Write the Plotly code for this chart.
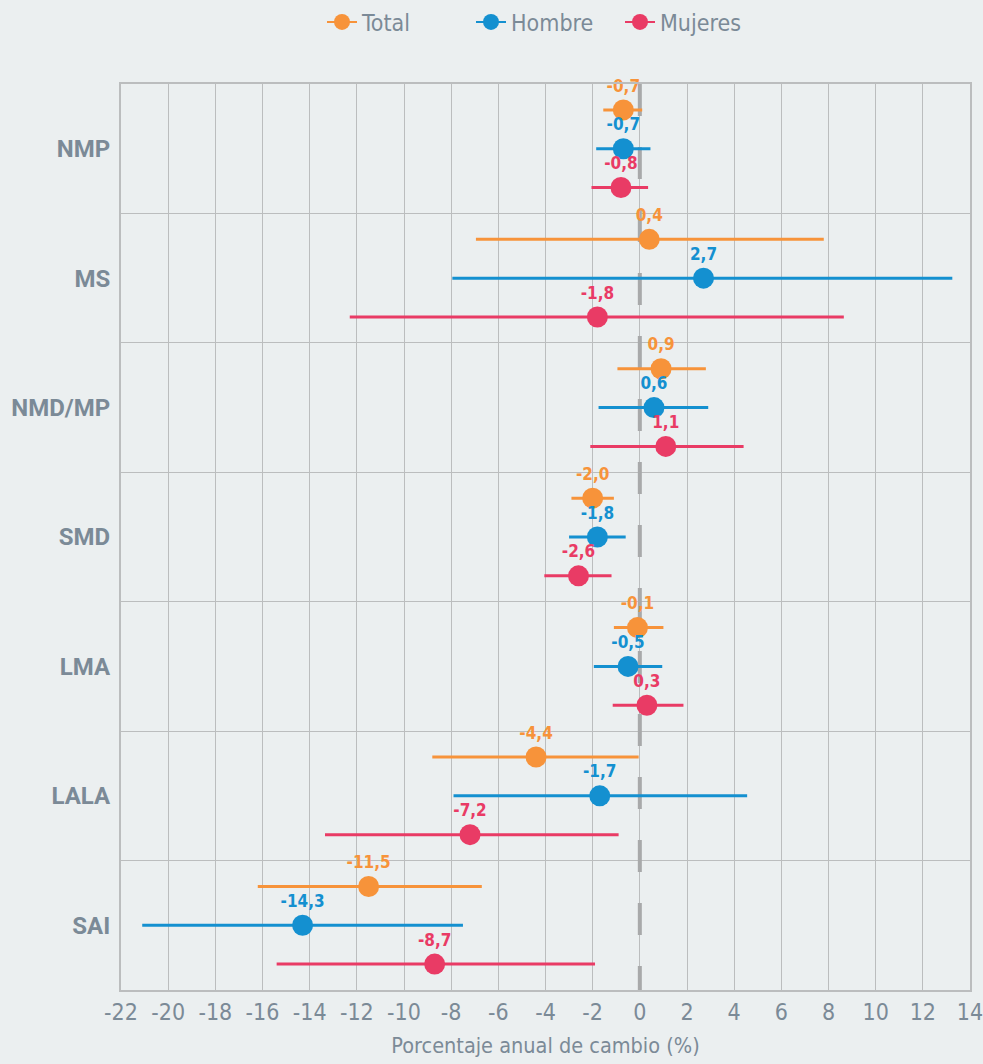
import plotly.graph_objects as go

categories = ["NMP", "MS", "NMD/MP", "SMD", "LMA", "LALA", "SAI"]

total = [-0.7, 0.4, 0.9, -2.0, -0.1, -4.4, -11.5]
total_lo = [-1.55, -6.95, -0.95, -2.9, -1.1, -8.8, -16.2]
total_hi = [0.1, 7.8, 2.8, -1.1, 1.0, -0.05, -6.7]

hombre = [-0.7, 2.7, 0.6, -1.8, -0.5, -1.7, -14.3]
hombre_lo = [-1.85, -7.95, -1.75, -3.0, -1.95, -7.9, -21.1]
hombre_hi = [0.45, 13.25, 2.9, -0.6, 0.95, 4.55, -7.5]

mujeres = [-0.8, -1.8, 1.1, -2.6, 0.3, -7.2, -8.7]
mujeres_lo = [-2.05, -12.3, -2.1, -4.05, -1.15, -13.35, -15.4]
mujeres_hi = [0.35, 8.65, 4.4, -1.2, 1.85, -0.9, -1.9]

x_ticks = list(range(-22, 15, 2))

BG = "#ebeff0"
GRID = "#bbbdbe"
TXT = "#7b8a97"
NARROW = "Liberation Sans Narrow, DejaVu Sans Condensed, Roboto, sans-serif"

series = [
    ("Total", total, total_lo, total_hi, "#f7933a", -0.3),
    ("Hombre", hombre, hombre_lo, hombre_hi, "#1490d0", 0.0),
    ("Mujeres", mujeres, mujeres_lo, mujeres_hi, "#e93b65", 0.3),
]

fig = go.Figure()

# dashed zero reference line
fig.add_trace(go.Scatter(
    x=[0, 0], y=[0, len(categories)], mode="lines",
    line=dict(color="#a8a9aa", width=4, dash="32px,31px"),
    showlegend=False, hoverinfo="skip",
))

for name, vals, lo, hi, color, off in series:
    ys = [i + 0.5 + off for i in range(len(categories))]
    fig.add_trace(go.Scatter(
        x=vals, y=ys, mode="markers+text", cliponaxis=False,
        marker=dict(color=color, size=21),
        text=[f"{v:.1f}".replace(".", ",") for v in vals],
        textposition="top center",
        textfont=dict(color=color, size=17, family=NARROW, weight="bold"),
        error_x=dict(type="data", symmetric=False,
                     array=[h - v for h, v in zip(hi, vals)],
                     arrayminus=[v - l for v, l in zip(vals, lo)],
                     color=color, thickness=3, width=0),
        showlegend=False, name=name,
    ))
    fig.add_trace(go.Scatter(
        x=[None], y=[None], mode="lines+markers", name=name,
        marker=dict(color=color, size=16), line=dict(color=color, width=2),
    ))

fig.update_layout(
    width=983, height=1064,
    paper_bgcolor=BG, plot_bgcolor=BG,
    margin=dict(l=121, r=13, t=84, b=74, autoexpand=False),
    font=dict(family=NARROW, color=TXT),
    legend=dict(orientation="h", x=0.5, xanchor="center",
                yref="container", y=1 - 22 / 1064, yanchor="middle",
                font=dict(size=23, color=TXT, family=NARROW), bgcolor="rgba(0,0,0,0)",
                itemwidth=30, entrywidth=104),
    xaxis=dict(
        range=[-22, 14], tickvals=x_ticks, ticktext=[str(v) for v in x_ticks],
        showgrid=True, gridcolor=GRID, gridwidth=1.2, zeroline=False,
        showline=True, linecolor=GRID, linewidth=2, mirror=True,
        tickfont=dict(size=23, color=TXT, family=NARROW),
        ticklabeloverflow="allow", automargin=False,
        title=dict(text="Porcentaje anual de cambio (%)", font=dict(size=21.5, color=TXT, family=NARROW), standoff=14),
        ticks="", ticklabelstandoff=0, fixedrange=True,
    ),
    yaxis=dict(
        range=[len(categories), 0],
        tickvals=[i + 0.5 for i in range(len(categories))], ticktext=categories,
        showgrid=False, zeroline=False, automargin=False,
        showline=True, linecolor=GRID, linewidth=2, mirror=True,
        minor=dict(tickvals=list(range(len(categories) + 1)), showgrid=True, gridcolor=GRID, gridwidth=1.2),
        tickfont=dict(size=24, color=TXT, family="Roboto, sans-serif", weight="bold"),
        ticks="", ticklabelstandoff=4, fixedrange=True,
    ),
)

fig.write_html(
    "out.html",
    config={"displayModeBar": False},
    post_script="document.body.style.margin='0px';document.body.style.overflow='hidden';",
)
